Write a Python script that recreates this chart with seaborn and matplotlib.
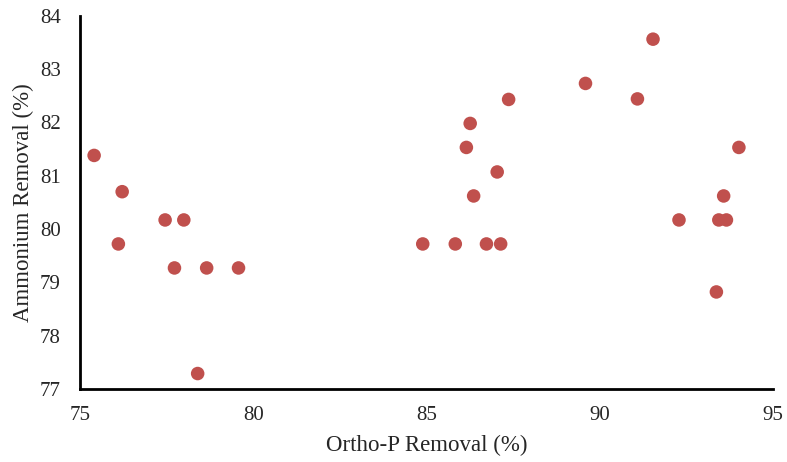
import pandas as pd
import seaborn as sns
import matplotlib.pyplot as plt

# Ortho-P removal (%) and ammonium removal (%)
ortho_p = [75.40, 76.21, 76.10, 77.45, 77.99, 77.72, 78.65, 79.57, 78.39,
           91.54, 89.59, 91.09, 87.37, 86.26, 86.15, 94.02, 87.04, 86.36,
           93.58, 92.29, 93.44, 93.66, 84.89, 85.83, 86.73, 87.14, 93.37]
ammonium = [81.38, 80.70, 79.72, 80.17, 80.17, 79.27, 79.27, 79.27, 77.29,
            83.56, 82.73, 82.44, 82.43, 81.98, 81.53, 81.53, 81.07, 80.62,
            80.62, 80.17, 80.17, 80.17, 79.72, 79.72, 79.72, 79.72, 78.82]

df = pd.DataFrame({"OrthoP": ortho_p, "Ammonium": ammonium})

sns.set_style("white")
plt.rcParams["font.family"] = ["Liberation Serif", "DejaVu Serif"]

fig = plt.figure(figsize=(7.87, 4.62), dpi=100)
ax = fig.add_axes([0.102, 0.158, 0.88, 0.808])
sns.scatterplot(data=df, x="OrthoP", y="Ammonium", ax=ax, color="#C0504D",
                s=95, edgecolor="none", clip_on=False)

ax.set_xlim(75, 95)
ax.set_ylim(77, 84)
ax.set_xticks([75, 80, 85, 90, 95])
ax.set_yticks(range(77, 85))
ax.tick_params(axis="y", length=0, labelsize=15, pad=14)
ax.tick_params(axis="x", length=0, labelsize=15, pad=12)
ax.set_xlabel("Ortho-P Removal (%)", fontsize=16.5, labelpad=7)
ax.set_ylabel("Ammonium Removal (%)", fontsize=16.5, labelpad=4)

sns.despine(ax=ax)
for side in ["left", "bottom"]:
    ax.spines[side].set_color("black")
    ax.spines[side].set_linewidth(2)

plt.savefig("out.png", dpi=100)
